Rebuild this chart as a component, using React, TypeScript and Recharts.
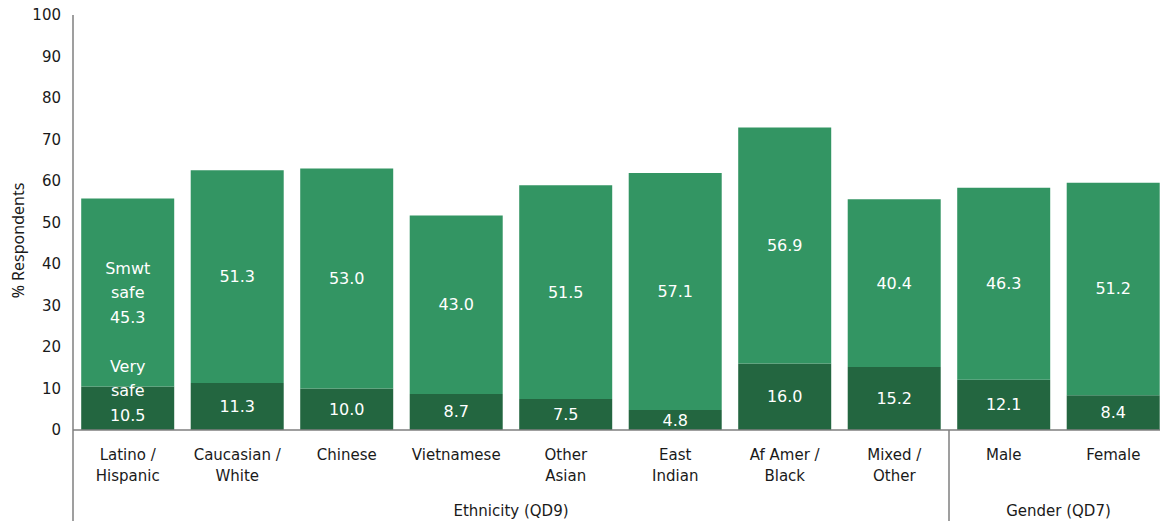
import React from "react";
import { BarChart, Bar, XAxis, YAxis, LabelList } from "recharts";

const categories = [
  "Latino /\nHispanic",
  "Caucasian /\nWhite",
  "Chinese",
  "Vietnamese",
  "Other\nAsian",
  "East\nIndian",
  "Af Amer /\nBlack",
  "Mixed /\nOther",
  "Male",
  "Female",
];
const verySafe = [10.5, 11.3, 10.0, 8.7, 7.5, 4.8, 16.0, 15.2, 12.1, 8.4];
const smwtSafe = [45.3, 51.3, 53.0, 43.0, 51.5, 57.1, 56.9, 40.4, 46.3, 51.2];
const yTicks = [0, 10, 20, 30, 40, 50, 60, 70, 80, 90, 100];
const groups = [
  { label: "Ethnicity (QD9)", start: 0, size: 8 },
  { label: "Gender (QD7)", start: 8, size: 2 },
];

const data = categories.map((c, i) => ({
  name: c,
  very: verySafe[i],
  smwt: smwtSafe[i],
}));

const W = 1160;
const H = 515;
const YW = 65;
const XH = 93;
const TOP = 7;
const band = (W - YW) / categories.length;
const FONT = "'DejaVu Sans', sans-serif";
const LIGHT = "#339563";
const DARK = "#236640";
const AXIS = "#7f7f7f";

const makeLabel = (firstWords: string[], shift: number) => (props: any) => {
  const { x, y, width, height, value, index } = props;
  const cx = Number(x) + Number(width) / 2;
  const cy = Number(y) + Number(height) / 2;
  const txt = Number(value).toFixed(1);
  if (index === 0) {
    const lines = [...firstWords, txt];
    const lh = 24.5;
    const c = cy + shift;
    return (
      <text
        fill="#fff"
        fontFamily={FONT}
        fontSize={16}
        textAnchor="middle"
        dominantBaseline="central"
      >
        {lines.map((l, k) => (
          <tspan key={k} x={cx} y={c + (k - (lines.length - 1) / 2) * lh}>
            {l}
          </tspan>
        ))}
      </text>
    );
  }
  return (
    <text
      x={cx}
      y={cy}
      fill="#fff"
      fontFamily={FONT}
      fontSize={16}
      textAnchor="middle"
      dominantBaseline="central"
    >
      {txt}
    </text>
  );
};

const XTick = (props: any) => {
  const { x, y, payload, index } = props;
  const lines = String(payload.value).split("\n");
  const axisY = y - 8;
  const grp = groups.find((g) => g.start === index);
  return (
    <g>
      <text
        fontFamily={FONT}
        fontSize={15}
        fill="#1a1a1a"
        textAnchor="middle"
      >
        {lines.map((l, k) => (
          <tspan key={k} x={x} y={axisY + 30 + k * 21}>
            {l}
          </tspan>
        ))}
      </text>
      {grp && (
        <>
          <line
            x1={x - band / 2}
            x2={x - band / 2}
            y1={axisY}
            y2={axisY + 91}
            stroke={AXIS}
            strokeWidth={1.5}
          />
          <text
            x={x + ((grp.size - 1) * band) / 2}
            y={axisY + 86}
            fontFamily={FONT}
            fontSize={15}
            fill="#1a1a1a"
            textAnchor="middle"
          >
            {grp.label}
          </text>
        </>
      )}
    </g>
  );
};

const YLabel = (props: any) => {
  const vb = props.viewBox || {};
  const cx = 10;
  const cy = vb.y + vb.height / 2 + 18;
  return (
    <text
      x={cx}
      y={cy}
      transform={`rotate(-90, ${cx}, ${cy})`}
      textAnchor="middle"
      dominantBaseline="central"
      fontFamily="'Noto Sans', sans-serif"
      fontSize={16}
      fill="#1a1a1a"
    >
      % Respondents
    </text>
  );
};

export default function App() {
  return (
    <BarChart
      width={W}
      height={H}
      data={data}
      margin={{ top: TOP, right: 0, left: 0, bottom: 0 }}
      barCategoryGap="7.5%"
    >
      <XAxis
        dataKey="name"
        height={XH}
        interval={0}
        tickLine={false}
        axisLine={{ stroke: AXIS, strokeWidth: 1.5 }}
        tick={<XTick />}
      />
      <YAxis
        width={YW}
        domain={[0, 100]}
        ticks={yTicks}
        interval={0}
        tickLine={false}
        axisLine={{ stroke: AXIS, strokeWidth: 1.5 }}
        tick={{ fontFamily: FONT, fontSize: 15, fill: "#1a1a1a" }}
        tickMargin={6}
        label={<YLabel />}
      />
      <Bar dataKey="very" stackId="a" fill={DARK} isAnimationActive={false}>
        <LabelList dataKey="very" content={makeLabel(["Very", "safe"], -18)} />
      </Bar>
      <Bar dataKey="smwt" stackId="a" fill={LIGHT} isAnimationActive={false}>
        <LabelList dataKey="smwt" content={makeLabel(["Smwt", "safe"], 0)} />
      </Bar>
    </BarChart>
  );
}
